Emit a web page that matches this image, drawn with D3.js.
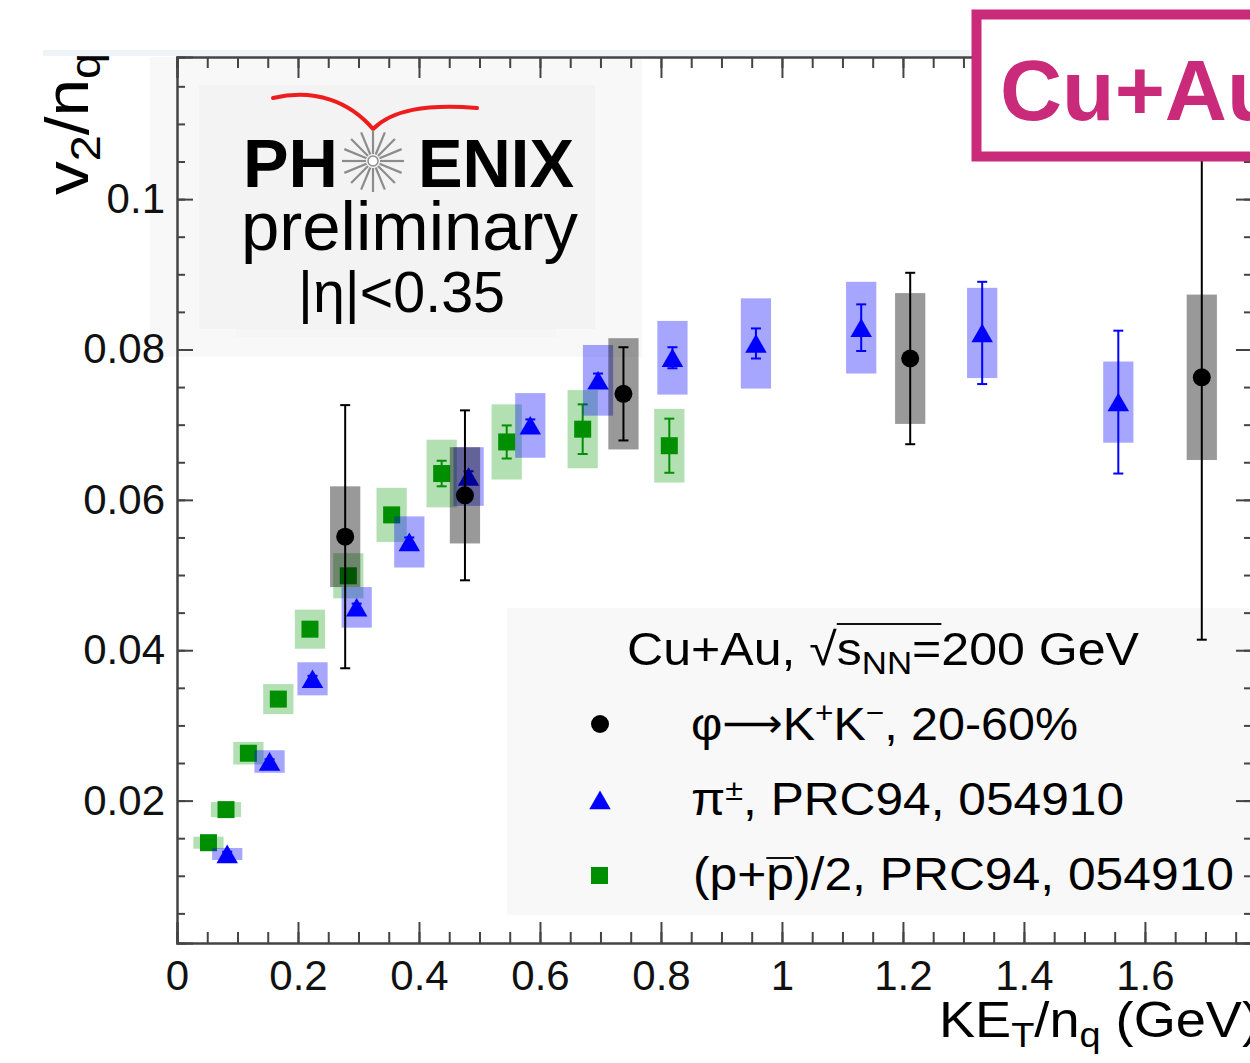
<!DOCTYPE html>
<html>
<head>
<meta charset="utf-8">
<script src="https://cdn.jsdelivr.net/npm/d3@7"></script>
<style>
  body { margin: 0; background: #fff; }
  svg { display: block; }
  text { font-family: "Liberation Sans", Arial, Helvetica, sans-serif; }
</style>
</head>
<body>
<script>
// phi -> K+K-, 20-60% (black circles)
const phiX = [0.278, 0.476, 0.738, 1.212, 1.694];
const phiY = [0.0551, 0.0606, 0.0741, 0.0788, 0.0763];
const phiStat = [0.0175, 0.0113, 0.0062, 0.0114, 0.0349];
const phiSys = [0.0067, 0.0064, 0.0074, 0.0087, 0.0110];

// pi+-, PRC94 054910 (blue triangles)
const piX = [0.083, 0.153, 0.224, 0.297, 0.384, 0.482, 0.584, 0.696, 0.819, 0.957, 1.131, 1.331, 1.556];
const piY = [0.0129, 0.0252, 0.0362, 0.0457, 0.0544, 0.0631, 0.0699, 0.0759, 0.0789, 0.0808, 0.0829, 0.0822, 0.0730];
const piStat = [0.0003, 0.0003, 0.0004, 0.0005, 0.0006, 0.0007, 0.0008, 0.0009, 0.0014, 0.0020, 0.0031, 0.0068, 0.0095];
const piSys = [0.0008, 0.0015, 0.0022, 0.0027, 0.0034, 0.0039, 0.0043, 0.0047, 0.0049, 0.0060, 0.0061, 0.0060, 0.0054];

// (p+pbar)/2, PRC94 054910 (green squares)
const pX = [0.052, 0.081, 0.118, 0.1675, 0.2198, 0.2832, 0.3548, 0.4375, 0.545, 0.6706, 0.8138];
const pY = [0.0144, 0.0188, 0.0263, 0.0335, 0.0428, 0.0499, 0.0580, 0.0635, 0.0677, 0.0694, 0.0672];
const pStat = [0.0003, 0.0003, 0.0003, 0.0004, 0.0005, 0.0006, 0.0008, 0.0017, 0.0022, 0.0033, 0.0036];
const pSys = [0.0008, 0.0010, 0.0015, 0.0020, 0.0026, 0.0030, 0.0036, 0.0045, 0.0050, 0.0052, 0.0049];

// axis ticks
const xMajor = [0, 0.2, 0.4, 0.6, 0.8, 1, 1.2, 1.4, 1.6];
const yMajor = [0.02, 0.04, 0.06, 0.08, 0.1];

const width = 1250, height = 1063;
const plot = { left: 177, right: 1252, top: 57, bottom: 943 };
const boxHalf = 0.025; // half width of systematic boxes in x units

const x = d3.scaleLinear().domain([0, 1.777]).range([plot.left, plot.right]);
const y = d3.scaleLinear().domain([0.00106, 0.1189]).range([plot.bottom, plot.top]);

const svg = d3.select("body").append("svg")
  .attr("width", width).attr("height", height)
  .attr("viewBox", [0, 0, width, height]);

// light strip and logo backgrounds
svg.append("rect").attr("x", 43).attr("y", 50).attr("width", 927).attr("height", 6).attr("fill", "#eef3f8");
svg.append("rect").attr("x", 150).attr("y", 57).attr("width", 492).attr("height", 300).attr("fill", "#f8f8f8");
svg.append("rect").attr("x", 199).attr("y", 85).attr("width", 396).attr("height", 244).attr("fill", "#f3f3f3");
svg.append("rect").attr("x", 236).attr("y", 329).attr("width", 320).attr("height", 8).attr("fill", "#f5f5f5");

// legend background
svg.append("rect").attr("x", 507).attr("y", 608).attr("width", 750).attr("height", 307).attr("fill", "#f8f8f8");

// axes
const axisColor = "#444";
function styleAxis(g) {
  g.select(".domain").attr("stroke", axisColor).attr("stroke-width", 2);
  g.selectAll(".tick line").attr("stroke", axisColor).attr("stroke-width", 2);
  g.selectAll(".tick text").attr("fill", "#111").attr("font-size", 42)
    .attr("font-family", '"Liberation Sans", Arial, sans-serif');
}
const xMinor = d3.range(0, 1.776, 0.05);
const yMinor = d3.range(0.005, 0.1189, 0.005);

svg.append("g").attr("transform", `translate(0,${plot.bottom})`)
  .call(d3.axisBottom(x).tickValues(xMinor).tickSize(-11).tickFormat(""))
  .call(styleAxis);
svg.append("g").attr("transform", `translate(0,${plot.bottom})`)
  .call(d3.axisBottom(x).tickValues(xMajor).tickSize(-21).tickPadding(17).tickFormat(d => String(d)))
  .call(styleAxis);
svg.append("g").attr("transform", `translate(0,${plot.top})`)
  .call(d3.axisTop(x).tickValues(xMinor).tickSize(-11).tickFormat(""))
  .call(styleAxis);
svg.append("g").attr("transform", `translate(0,${plot.top})`)
  .call(d3.axisTop(x).tickValues(xMajor).tickSize(-21).tickFormat(""))
  .call(styleAxis);
svg.append("g").attr("transform", `translate(${plot.left},0)`)
  .call(d3.axisLeft(y).tickValues(yMinor).tickSize(-8).tickFormat(""))
  .call(styleAxis);
svg.append("g").attr("transform", `translate(${plot.left},0)`)
  .call(d3.axisLeft(y).tickValues(yMajor).tickSize(-16).tickPadding(12).tickFormat(d => String(+d.toFixed(2))))
  .call(styleAxis);
svg.append("g").attr("transform", `translate(${plot.right},0)`)
  .call(d3.axisRight(y).tickValues(yMinor).tickSize(-8).tickFormat(""))
  .call(styleAxis);
svg.append("g").attr("transform", `translate(${plot.right},0)`)
  .call(d3.axisRight(y).tickValues(yMajor).tickSize(-16).tickFormat(""))
  .call(styleAxis);

// data series: boxes, error bars, markers
const triSize = 200;
function drawSeries(xs, ys, stat, sys, color, boxColor, boxOpacity, markerType, markerSize, dyMarker) {
  const data = xs.map((v, i) => ({ x: v, y: ys[i], stat: stat[i], sys: sys[i] }));
  const g = svg.append("g");
  g.selectAll("rect.sys").data(data).join("rect")
    .attr("class", "sys")
    .attr("x", d => x(d.x - boxHalf))
    .attr("width", d => x(d.x + boxHalf) - x(d.x - boxHalf))
    .attr("y", d => y(d.y + d.sys))
    .attr("height", d => y(d.y - d.sys) - y(d.y + d.sys))
    .attr("fill", boxColor).attr("fill-opacity", boxOpacity);
  const eb = g.selectAll("g.eb").data(data).join("g").attr("class", "eb")
    .attr("stroke", color).attr("stroke-width", 2);
  eb.append("line")
    .attr("x1", d => x(d.x)).attr("x2", d => x(d.x))
    .attr("y1", d => y(d.y + d.stat)).attr("y2", d => y(d.y - d.stat));
  eb.append("line")
    .attr("x1", d => x(d.x) - 5).attr("x2", d => x(d.x) + 5)
    .attr("y1", d => y(d.y + d.stat)).attr("y2", d => y(d.y + d.stat));
  eb.append("line")
    .attr("x1", d => x(d.x) - 5).attr("x2", d => x(d.x) + 5)
    .attr("y1", d => y(d.y - d.stat)).attr("y2", d => y(d.y - d.stat));
  g.selectAll("path.marker").data(data).join("path")
    .attr("class", "marker")
    .attr("d", d3.symbol(markerType, markerSize))
    .attr("transform", d => `translate(${x(d.x)},${y(d.y) + dyMarker})`)
    .attr("fill", color);
}

drawSeries(pX, pY, pStat, pSys, "#008f00", "#009900", 0.3, d3.symbolSquare, 289, 0);
drawSeries(piX, piY, piStat, piSys, "#0000ff", "#0000ff", 0.35, d3.symbolTriangle, triSize, 3);
drawSeries(phiX, phiY, phiStat, phiSys, "#000", "#000", 0.4, d3.symbolCircle, 254, 0);

// Cu+Au badge
svg.append("rect").attr("x", 976.5).attr("y", 14.5).attr("width", 400).attr("height", 142)
  .attr("fill", "#fff").attr("stroke", "#c92a7a").attr("stroke-width", 10);
svg.append("text").attr("x", 1000).attr("y", 120)
  .attr("font-size", 86).attr("font-weight", "bold").attr("fill", "#c92a7a")
  .text("Cu+Au");

// PHENIX logo
svg.append("path")
  .attr("d", "M273,98 C315,88 350,102 373,129 C392,110 425,104 477,108")
  .attr("fill", "none").attr("stroke", "#ee1c1c").attr("stroke-width", 4).attr("stroke-linecap", "round");
svg.append("text").attr("x", 243).attr("y", 187).attr("font-size", 69).attr("font-weight", "bold")
  .attr("textLength", 95).attr("lengthAdjust", "spacingAndGlyphs").text("PH");
svg.append("text").attr("x", 418).attr("y", 187).attr("font-size", 69).attr("font-weight", "bold")
  .attr("textLength", 156).attr("lengthAdjust", "spacingAndGlyphs").text("ENIX");
const star = svg.append("g").attr("transform", "translate(373,161)");
star.selectAll("line").data(d3.range(16)).join("line")
  .attr("x1", i => 7 * Math.cos(i * Math.PI / 8)).attr("y1", i => 7 * Math.sin(i * Math.PI / 8))
  .attr("x2", i => 31 * Math.cos(i * Math.PI / 8)).attr("y2", i => 31 * Math.sin(i * Math.PI / 8))
  .attr("stroke", "#8c8c8c").attr("stroke-width", 2.2);
star.append("circle").attr("r", 5).attr("fill", "#fff").attr("stroke", "#8c8c8c").attr("stroke-width", 1.5);
svg.append("text").attr("x", 241).attr("y", 250).attr("font-size", 69)
  .attr("textLength", 337).attr("lengthAdjust", "spacingAndGlyphs").text("preliminary");
svg.append("text").attr("x", 298).attr("y", 312).attr("font-size", 57)
  .attr("textLength", 207).attr("lengthAdjust", "spacingAndGlyphs").text("|η|<0.35");

// legend
const lg = svg.append("g");
lg.append("circle").attr("cx", 600).attr("cy", 724).attr("r", 9).attr("fill", "#000");
lg.append("path").attr("d", d3.symbol(d3.symbolTriangle, triSize)).attr("transform", "translate(600,803)").attr("fill", "#0000ff");
lg.append("rect").attr("x", 591).attr("y", 867).attr("width", 17).attr("height", 17).attr("fill", "#008f00");

const t0 = lg.append("text").attr("x", 627).attr("y", 665).attr("font-size", 46)
  .attr("textLength", 512).attr("lengthAdjust", "spacingAndGlyphs");
t0.append("tspan").text("Cu+Au, √s");
t0.append("tspan").attr("font-size", 32).attr("dy", 9).text("NN");
t0.append("tspan").attr("dy", -9).text("=200 GeV");

const t1 = lg.append("text").attr("x", 691).attr("y", 740).attr("font-size", 46)
  .attr("textLength", 387).attr("lengthAdjust", "spacingAndGlyphs");
t1.append("tspan").text("φ");
t1.append("tspan").attr("font-family", '"DejaVu Sans", sans-serif').attr("font-size", 40).attr("dy", -3).text("⟶");
t1.append("tspan").attr("dy", 3).text("K");
t1.append("tspan").attr("font-size", 30).attr("dy", -17).text("+");
t1.append("tspan").attr("dy", 17).text("K");
t1.append("tspan").attr("font-size", 30).attr("dy", -17).text("−");
t1.append("tspan").attr("dy", 17).text(", 20-60%");

const t2 = lg.append("text").attr("x", 691).attr("y", 815).attr("font-size", 46)
  .attr("textLength", 433).attr("lengthAdjust", "spacingAndGlyphs");
t2.append("tspan").text("π");
t2.append("tspan").attr("font-size", 30).attr("dy", -15).text("±");
t2.append("tspan").attr("dy", 15).text(", PRC94, 054910");

const t3 = lg.append("text").attr("x", 693).attr("y", 890).attr("font-size", 46)
  .attr("textLength", 541).attr("lengthAdjust", "spacingAndGlyphs")
  .text("(p+p)/2, PRC94, 054910");

// overlines: sqrt(sNN) and pbar
function overline(textSel, i0, i1, yLine) {
  const n = textSel.node();
  const a = n.getExtentOfChar(i0), b = n.getExtentOfChar(i1);
  lg.append("line").attr("x1", a.x).attr("x2", b.x + b.width)
    .attr("y1", yLine).attr("y2", yLine).attr("stroke", "#111").attr("stroke-width", 2);
}
overline(t0, 8, 11, 624);
overline(t3, 3, 3, 858);

// axis titles
const yl = svg.append("text").attr("transform", "translate(88,195) rotate(-90)")
  .attr("font-size", 62).attr("textLength", 142).attr("lengthAdjust", "spacingAndGlyphs");
yl.append("tspan").text("v");
yl.append("tspan").attr("font-size", 43).attr("dy", 12).text("2");
yl.append("tspan").attr("font-size", 62).attr("dy", -12).text("/n");
yl.append("tspan").attr("font-size", 43).attr("dy", 12).text("q");

const xl = svg.append("text").attr("x", 939).attr("y", 1037)
  .attr("font-size", 50).attr("textLength", 321).attr("lengthAdjust", "spacingAndGlyphs");
xl.append("tspan").text("KE");
xl.append("tspan").attr("font-size", 35).attr("dy", 10).text("T");
xl.append("tspan").attr("dy", -10).text("/n");
xl.append("tspan").attr("font-size", 35).attr("dy", 10).text("q");
xl.append("tspan").attr("dy", -10).text(" (GeV)");
</script>
</body>
</html>
